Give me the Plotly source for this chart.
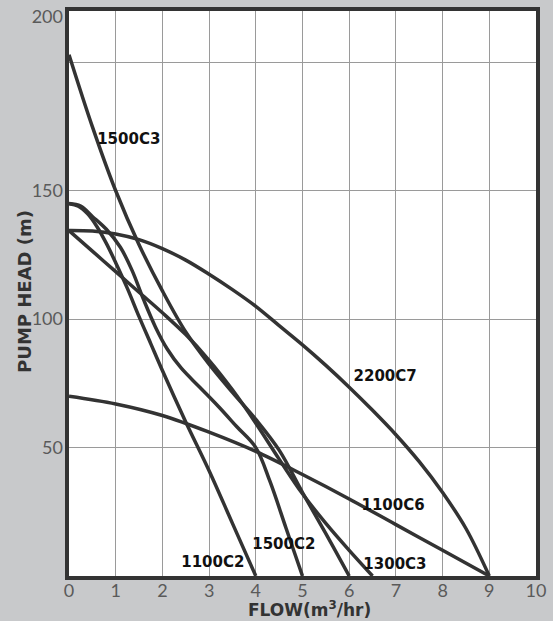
import plotly.graph_objects as go

# pump curves: flow (m3/hr) vs head (m)
flow_1500c3 = [0, 0.5, 1, 1.5, 2, 2.5, 3, 3.5, 4, 4.5, 5, 5.5, 6]
head_1500c3 = [203, 175, 150, 129, 111, 95, 82.5, 71.5, 61, 49, 32.5, 16.5, 0]

flow_1500c2 = [0, 0.25, 0.5, 0.8, 1.1, 1.35, 1.6, 1.85, 2.1, 2.4, 2.8, 3.2, 3.6, 4.0, 4.3, 4.65, 5.0]
head_1500c2 = [145, 144, 140, 135, 128, 119, 107.5, 97, 88.5, 81, 73.5, 66, 58, 50, 37, 18.5, 0]

flow_1100c2 = [0, 0.2, 0.4, 0.6, 0.8, 1.0, 1.25, 1.5, 1.75, 2.0, 2.5, 3.0, 3.5, 4.0]
head_1100c2 = [145, 144, 141, 136, 129.5, 122, 112, 101, 90.5, 80, 60, 41, 20.5, 0]

flow_1300c3 = [0, 0.5, 1, 1.5, 2, 2.5, 3, 3.5, 4, 4.5, 5, 5.5, 6, 6.5]
head_1300c3 = [134.5, 126.5, 118.5, 110.5, 102.5, 94, 84, 72.5, 59.5, 45.5, 32, 20.5, 10, 0]

flow_2200c7 = [0, 0.5, 1, 1.5, 2, 2.5, 3, 3.5, 4, 4.5, 5, 5.5, 6, 6.5, 7, 7.5, 8, 8.5, 9]
head_2200c7 = [134.5, 134.3, 133.2, 131, 127.5, 123, 117.5, 111.5, 105, 97.5, 90, 82, 73.5, 64.5, 55, 44.5, 32.5, 18.5, 0]

flow_1100c6 = [0, 1, 2, 3, 4, 5, 6, 7, 8, 9]
head_1100c6 = [70, 67, 62.5, 56, 48.5, 39.5, 30, 20, 10, 0]

curve_names = ["1500C3", "1500C2", "1100C2", "1300C3", "2200C7", "1100C6"]
label_x = [1.28, 4.6, 3.08, 6.98, 6.77, 6.94]
label_y = [169.8, 12.1, 5.1, 4.3, 77.5, 27.3]

x_ticks = list(range(0, 11))
y_grid = [50, 100, 150, 200]
y_tick_pos = [50, 100, 150, 217.7]
y_tick_text = ["50", "100", "150", "200"]

curves = [
    (flow_1500c3, head_1500c3),
    (flow_1500c2, head_1500c2),
    (flow_1100c2, head_1100c2),
    (flow_1300c3, head_1300c3),
    (flow_2200c7, head_2200c7),
    (flow_1100c6, head_1100c6),
]

line_col = "#333333"
bold_font = "DejaVu Sans"

fig = go.Figure()
for name, (fx, hy) in zip(curve_names, curves):
    fig.add_trace(go.Scatter(x=fx, y=hy, mode="lines", name=name,
                             line=dict(color=line_col, width=3.5, shape="spline", smoothing=1.0),
                             showlegend=False, hoverinfo="skip"))

# invisible trace on the overlay axis so its tick labels are drawn
fig.add_trace(go.Scatter(x=[0], y=[0], yaxis="y2", mode="markers",
                         marker=dict(opacity=0), showlegend=False, hoverinfo="skip"))

fig.add_trace(go.Scatter(x=label_x, y=label_y, mode="text",
                         text=["<b>" + n + "</b>" for n in curve_names],
                         textfont=dict(family=bold_font, size=15, color="#111111"),
                         showlegend=False, hoverinfo="skip"))

tick_font = dict(family="Lato", size=18, color="#5a5a5a")

fig.update_layout(
    width=553, height=621,
    margin=dict(l=69, r=17, t=11, b=45, autoexpand=False),
    paper_bgcolor="#c8c9cb",
    plot_bgcolor="white",
    xaxis=dict(range=[0, 10], tickvals=x_ticks, showgrid=True, gridcolor="#9a9a9a", gridwidth=1,
               showline=True, linecolor=line_col, linewidth=4, mirror=True,
               ticks="", tickfont=tick_font, zeroline=False, automargin=False,
               ticklabelstandoff=-5),
    yaxis=dict(range=[0, 220], tickvals=y_grid, showticklabels=False, showgrid=True,
               gridcolor="#9a9a9a", gridwidth=1,
               showline=True, linecolor=line_col, linewidth=4, mirror=True,
               ticks="", zeroline=False, automargin=False),
    yaxis2=dict(range=[0, 220], overlaying="y", side="left", tickvals=y_tick_pos,
                ticktext=y_tick_text, showgrid=False, zeroline=False, showline=False,
                ticks="", tickfont=tick_font, automargin=False, ticklabelstandoff=5),
    annotations=[
        dict(text="<b>PUMP HEAD (m)</b>", xref="paper", yref="paper", x=-0.094, y=0.503,
             textangle=-90, showarrow=False, xanchor="center", yanchor="middle",
             font=dict(family=bold_font, size=18, color="#333333")),
        dict(text="<b>FLOW(m<sup>3</sup>/hr)</b>", xref="paper", yref="paper", x=0.514, y=-0.059,
             showarrow=False, xanchor="center", yanchor="middle",
             font=dict(family=bold_font, size=17, color="#333333")),
    ],
)

# the page's default body margin would push the figure off the window
fig.write_html("out.html", config={"displayModeBar": False},
               post_script="document.body.style.margin='0';")
